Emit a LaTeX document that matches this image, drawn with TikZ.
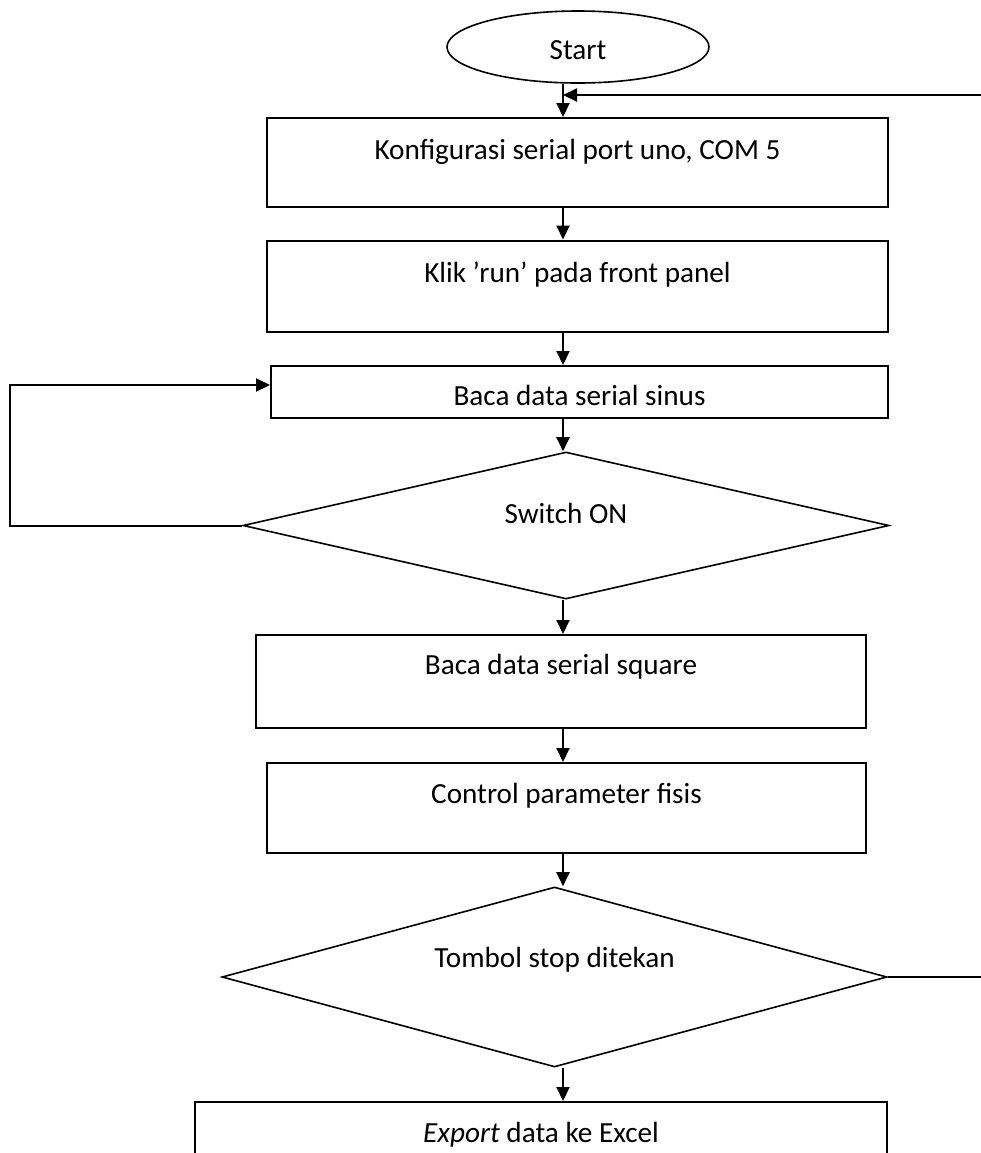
\documentclass[tikz,border=0pt]{standalone}
\usepackage{fontspec}
\setmainfont{Carlito}
\usetikzlibrary{shapes.geometric,arrows.meta}

\begin{document}
\begin{tikzpicture}[x=0.5pt, y=-0.5pt,
    every node/.style={font=\fontsize{14.6}{18}\selectfont, text height=11pt, text depth=1.6pt},
    box/.style={draw, line width=1pt, inner sep=0pt},
    cond/.style={draw, diamond, line width=0.8pt, inner sep=0pt, aspect=4},
    arr/.style={line width=1pt, -{Triangle[length=7pt,width=6.5pt]}}]
    \useasboundingbox (0,0) rectangle (981,1153);
    \clip (0,0) rectangle (981,1153);
    % langkah-langkah
    \node[draw, ellipse, line width=0.8pt, inner sep=0pt, minimum width=131pt, minimum height=36pt, text height=14pt] (start) at (578,47) {Start};
    \node[box, minimum width=310.5pt, minimum height=44.5pt, text depth=14.1pt] (konfig) at (577.5,162.5) {Konfigurasi serial port uno, COM 5};
    \node[box, minimum width=310.5pt, minimum height=45.5pt, text depth=14.1pt] (klik) at (577.5,286) {Klik ’run’ pada front panel};
    \node[box, minimum width=308.5pt, minimum height=26pt, text height=15pt] (sinus) at (579.5,392) {Baca data serial sinus};
    \node[cond, minimum width=323pt, minimum height=73.5pt, text depth=13.1pt] (switch) at (566,525.5) {Switch ON};
    \node[box, minimum width=305pt, minimum height=46.5pt, text depth=18.1pt] (square) at (561,681.5) {Baca data serial square};
    \node[box, minimum width=299.5pt, minimum height=45pt, text depth=15.6pt] (control) at (566.5,808) {Control parameter fisis};
    \node[cond, minimum width=332.5pt, minimum height=90pt, text depth=20.1pt] (tombol) at (554.5,977) {Tombol stop ditekan};
    \node[box, minimum width=346pt, minimum height=45pt, text depth=15.6pt] (export) at (541,1147) {\textit{Export} data ke Excel};
    % panah
    \coordinate (col) at (563,0);
    \coordinate (join) at (563,95);
    \coordinate (loopL) at (10,385);
    \coordinate (loopR) at (1010,95);
    \draw[line width=1pt] (start.south -| col) -- (join);
    \draw[arr] (join) -- (konfig.north -| col);
    \draw[arr] (konfig.south -| col) -- (klik.north -| col);
    \draw[arr] (klik.south -| col) -- (sinus.north -| col);
    \draw[arr] (sinus.south -| col) -- (switch.north -| col);
    \draw[arr] (switch.south -| col) -- (square.north -| col);
    \draw[arr] (square.south -| col) -- (control.north -| col);
    \draw[arr] (control.south -| col) -- (tombol.north -| col);
    \draw[arr] (tombol.south -| col) -- (export.north -| col);
    \draw[arr] (switch.west) -| (loopL) -- (sinus.west |- loopL);
    \draw[arr] (tombol.east) -| (loopR) -- (join);
\end{tikzpicture}
\end{document}
